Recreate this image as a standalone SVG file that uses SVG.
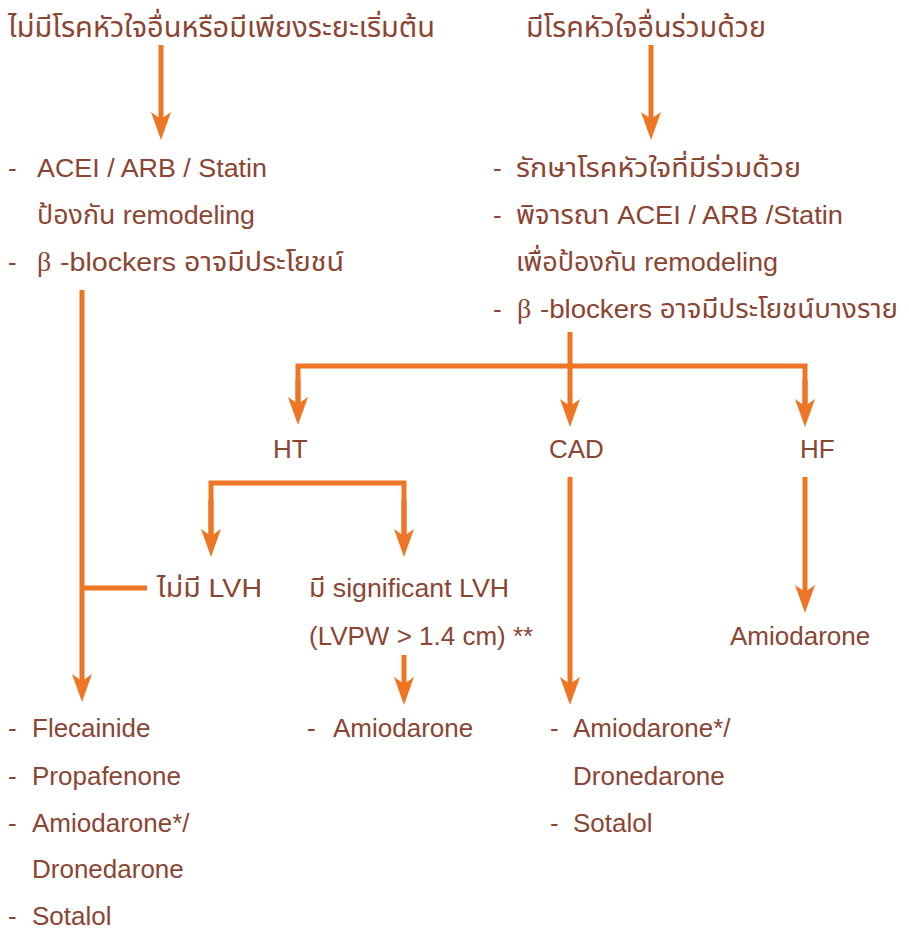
<svg xmlns="http://www.w3.org/2000/svg" width="909" height="930" viewBox="0 0 909 930">
<style>
text{font-family:"Liberation Sans","Noto Sans Thai","Noto Sans","DejaVu Sans",sans-serif;font-size:26px;fill:#8B4533}
.th{font-size:28px}
.b{font-family:"Liberation Serif","DejaVu Serif",serif;font-size:28px}
.c line,.c polyline{stroke:#EE7523;stroke-width:5;fill:none;marker-end:url(#ah)}
.c .nm{marker-end:none}
</style>
<defs>
<marker id="ah" markerUnits="userSpaceOnUse" markerWidth="30" markerHeight="22" viewBox="0 0 30 22" refX="8" refY="11" orient="auto">
<path d="M0,1 L28,11 L0,21 L7,11 Z" fill="#EE7523"/>
</marker>
</defs>
<rect width="909" height="930" fill="#fff"/>
<g class="c" id="connectors">
<line x1="161" y1="45" x2="161" y2="120"/>
<line x1="651" y1="45" x2="651" y2="120"/>
<line x1="82" y1="290" x2="82" y2="682"/>
<line class="nm" x1="82" y1="588" x2="147" y2="588"/>
<line x1="570" y1="332" x2="570" y2="407"/>
<polyline class="nm" points="298,405 298,366 805,366 805,405"/>
<line x1="298" y1="380" x2="298" y2="405"/>
<line x1="805" y1="380" x2="805" y2="407"/>
<polyline class="nm" points="211,537 211,483 404,483 404,537"/>
<line x1="211" y1="500" x2="211" y2="537"/>
<line x1="404" y1="500" x2="404" y2="537"/>
<line x1="404" y1="655" x2="404" y2="685"/>
<line x1="570" y1="477" x2="570" y2="685"/>
<line x1="805" y1="477" x2="805" y2="593"/>
</g>
<g id="title-left"><text class="th" x="8" y="37" textLength="427" lengthAdjust="spacingAndGlyphs">ไม่มีโรคหัวใจอื่นหรือมีเพียงระยะเริ่มต้น</text></g>
<g id="title-right"><text class="th" x="526" y="37" textLength="240" lengthAdjust="spacingAndGlyphs">มีโรคหัวใจอื่นร่วมด้วย</text></g>
<g id="left-box">
<text x="8" y="177">-</text><text x="37" y="177" textLength="230" lengthAdjust="spacingAndGlyphs">ACEI / ARB / Statin</text>
<text x="37" y="224" textLength="218" lengthAdjust="spacingAndGlyphs">ป้องกัน remodeling</text>
<text x="8" y="271">-</text><text x="37" y="271" class="b">β</text><text x="60" y="271" textLength="284" lengthAdjust="spacingAndGlyphs">-blockers อาจมีประโยชน์</text>
</g>
<g id="right-box">
<text x="493" y="177">-</text><text x="516" y="177" textLength="285" lengthAdjust="spacingAndGlyphs">รักษาโรคหัวใจที่มีร่วมด้วย</text>
<text x="493" y="224">-</text><text x="516" y="224" textLength="327" lengthAdjust="spacingAndGlyphs">พิจารณา ACEI / ARB /Statin</text>
<text x="516" y="271" textLength="262" lengthAdjust="spacingAndGlyphs">เพื่อป้องกัน remodeling</text>
<text x="493" y="318">-</text><text x="517" y="318" class="b">β</text><text x="540" y="318" textLength="358" lengthAdjust="spacingAndGlyphs">-blockers อาจมีประโยชน์บางราย</text>
</g>
<g id="ht"><text x="273" y="458">HT</text></g>
<g id="cad"><text x="549" y="458">CAD</text></g>
<g id="hf"><text x="800" y="458">HF</text></g>
<g id="no-lvh"><text x="157" y="597" textLength="105" lengthAdjust="spacingAndGlyphs">ไม่มี LVH</text></g>
<g id="sig-lvh">
<text x="309" y="597" textLength="200" lengthAdjust="spacingAndGlyphs">มี significant LVH</text>
<text x="309" y="645">(LVPW &gt; 1.4 cm) **</text>
</g>
<g id="hf-drug"><text x="730" y="645">Amiodarone</text></g>
<g id="left-drugs">
<text x="8" y="737">-</text><text x="32" y="737">Flecainide</text>
<text x="8" y="785">-</text><text x="32" y="785">Propafenone</text>
<text x="8" y="832">-</text><text x="32" y="832">Amiodarone*/</text>
<text x="32" y="878">Dronedarone</text>
<text x="8" y="925">-</text><text x="32" y="925">Sotalol</text>
</g>
<g id="lvh-drug"><text x="307" y="737">-</text><text x="333" y="737">Amiodarone</text></g>
<g id="cad-drugs">
<text x="550" y="737">-</text><text x="573" y="737">Amiodarone*/</text>
<text x="573" y="785">Dronedarone</text>
<text x="550" y="832">-</text><text x="573" y="832">Sotalol</text>
</g>
</svg>
